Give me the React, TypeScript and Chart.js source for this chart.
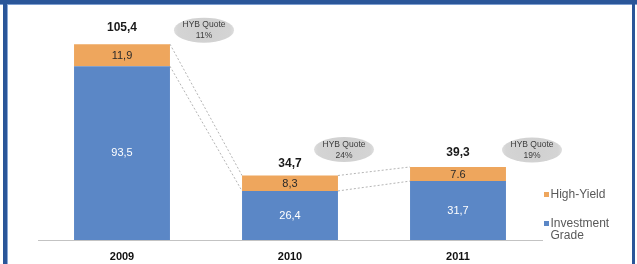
import React, { useEffect, useRef } from "react";
import { Chart, registerables } from "chart.js";

Chart.register(...registerables);

const categories = ["2009", "2010", "2011"];
const investmentGrade = [93.5, 26.4, 31.7];
const highYield = [11.9, 8.3, 7.6];
const totals = [105.4, 34.7, 39.3];
const igLabels = ["93,5", "26,4", "31,7"];
const hyLabels = ["11,9", "8,3", "7.6"];
const totalLabels = ["105,4", "34,7", "39,3"];
const hybQuotes = ["11%", "24%", "19%"];
const legendItems = [
  { lines: ["High-Yield"], color: "#eea65d" },
  { lines: ["Investment", "Grade"], color: "#5b87c6" },
];

const FONT = "'Liberation Sans', Arial, sans-serif";
const BLUE = "#5b87c6";
const ORANGE = "#eea65d";

// annotation layout offsets (relative to category center / stack top)
const quoteOffsets = [
  { dx: 82, dy: -14 },
  { dx: 54, dy: -26 },
  { dx: 74, dy: -17 },
];
const totalOffsets = [-16, -12, -14];

const decorPlugin = {
  id: "decor",
  beforeDraw(chart: any) {
    const { ctx, width, height } = chart;
    ctx.save();
    ctx.fillStyle = "#ffffff";
    ctx.fillRect(0, 0, width, height);
    // frame
    ctx.fillStyle = "#2a5699";
    ctx.fillRect(0, 0, width, 4);
    ctx.fillStyle = "#7d9ed0";
    ctx.fillRect(0, 4, width, 1);
    ctx.fillStyle = "#2a5699";
    ctx.fillRect(3, 0, 4, height);
    ctx.fillStyle = "#8aa8d6";
    ctx.fillRect(7, 5, 1, height - 5);
    ctx.fillStyle = "#2a5699";
    ctx.fillRect(632, 0, 3, height);
    ctx.restore();
  },
  beforeDatasetsDraw(chart: any) {
    const { ctx } = chart;
    const ig = chart.getDatasetMeta(0).data;
    const hy = chart.getDatasetMeta(1).data;
    ctx.save();
    ctx.strokeStyle = "#b5b5b5";
    ctx.lineWidth = 1;
    ctx.setLineDash([2, 2]);
    for (let i = 0; i < ig.length - 1; i++) {
      const a = ig[i], b = ig[i + 1];
      const ha = hy[i], hb = hy[i + 1];
      const x1 = a.x + a.width / 2;
      const x2 = b.x - b.width / 2;
      ctx.beginPath();
      ctx.moveTo(x1, ha.y);
      ctx.lineTo(x2, hb.y);
      ctx.moveTo(x1, a.y);
      ctx.lineTo(x2, b.y);
      ctx.stroke();
    }
    ctx.restore();
  },
  afterDatasetsDraw(chart: any) {
    const { ctx } = chart;
    const ig = chart.getDatasetMeta(0).data;
    const hy = chart.getDatasetMeta(1).data;
    const yScale = chart.scales.y;
    ctx.save();
    ctx.textAlign = "center";
    ctx.textBaseline = "middle";
    for (let i = 0; i < ig.length; i++) {
      const a = ig[i];
      const h = hy[i];
      // inner labels
      ctx.font = `11px ${FONT}`;
      ctx.fillStyle = "#ffffff";
      ctx.fillText(igLabels[i], a.x, (a.y + a.base) / 2);
      ctx.fillStyle = "#2a2a2a";
      ctx.fillText(hyLabels[i], h.x, (h.y + h.base) / 2 + 0.5);
      // totals
      const topY = yScale.getPixelForValue(totals[i]);
      ctx.font = `bold 12px ${FONT}`;
      ctx.fillStyle = "#1a1a1a";
      ctx.fillText(totalLabels[i], a.x, topY + totalOffsets[i]);
      // quote ellipses
      const cx = a.x + quoteOffsets[i].dx;
      const cy = topY + quoteOffsets[i].dy;
      const grad = ctx.createRadialGradient(cx, cy, 2, cx, cy, 32);
      grad.addColorStop(0, "#d0d0d0");
      grad.addColorStop(0.8, "#d4d4d4");
      grad.addColorStop(1, "#e2e2e2");
      ctx.fillStyle = grad;
      ctx.beginPath();
      ctx.ellipse(cx, cy, 30, 12.5, 0, 0, Math.PI * 2);
      ctx.fill();
      ctx.font = `8.5px ${FONT}`;
      ctx.fillStyle = "#3c3c3c";
      ctx.fillText("HYB Quote", cx, cy - 5);
      ctx.fillText(hybQuotes[i], cx, cy + 6);
    }
    // legend
    ctx.textAlign = "left";
    ctx.font = `12px ${FONT}`;
    const legendTops = [194.5, 223.5];
    legendItems.forEach((item, k) => {
      const y0 = legendTops[k];
      ctx.fillStyle = item.color;
      ctx.fillRect(544, y0 - 2.5, 5, 5);
      ctx.fillStyle = "#595959";
      item.lines.forEach((ln, j) => {
        ctx.fillText(ln, 550.5, y0 + j * 12.5);
      });
    });
    ctx.restore();
  },
};

export default function App() {
  const ref = useRef<HTMLCanvasElement | null>(null);
  useEffect(() => {
    if (!ref.current) return;
    const chart = new Chart(ref.current, {
      type: "bar",
      data: {
        labels: categories,
        datasets: [
          {
            label: "Investment Grade",
            data: investmentGrade,
            backgroundColor: BLUE,
            barPercentage: 0.571,
            categoryPercentage: 1,
          },
          {
            label: "High-Yield",
            data: highYield,
            backgroundColor: ORANGE,
            barPercentage: 0.571,
            categoryPercentage: 1,
          },
        ],
      },
      options: {
        responsive: false,
        animation: false,
        devicePixelRatio: 1,
        layout: { padding: { left: 38, right: 95, top: 17, bottom: 0 } },
        plugins: {
          legend: { display: false },
          tooltip: { enabled: false },
        },
        scales: {
          x: {
            stacked: true,
            grid: { display: false },
            border: { display: true, color: "#c3c3c3", width: 1 },
            ticks: {
              color: "#111111",
              padding: 2,
              font: { family: FONT, size: 11, weight: "bold" },
            },
            afterFit: (s: any) => {
              s.height = 24;
            },
          },
          y: {
            stacked: true,
            display: false,
            min: 0,
            max: 120,
          },
        },
      },
      plugins: [decorPlugin],
    } as any);
    return () => chart.destroy();
  }, []);
  return (
    <div style={{ position: "fixed", left: 0, top: 0, width: 637, height: 264 }}>
      <canvas ref={ref} width={637} height={264} style={{ display: "block" }} />
    </div>
  );
}
